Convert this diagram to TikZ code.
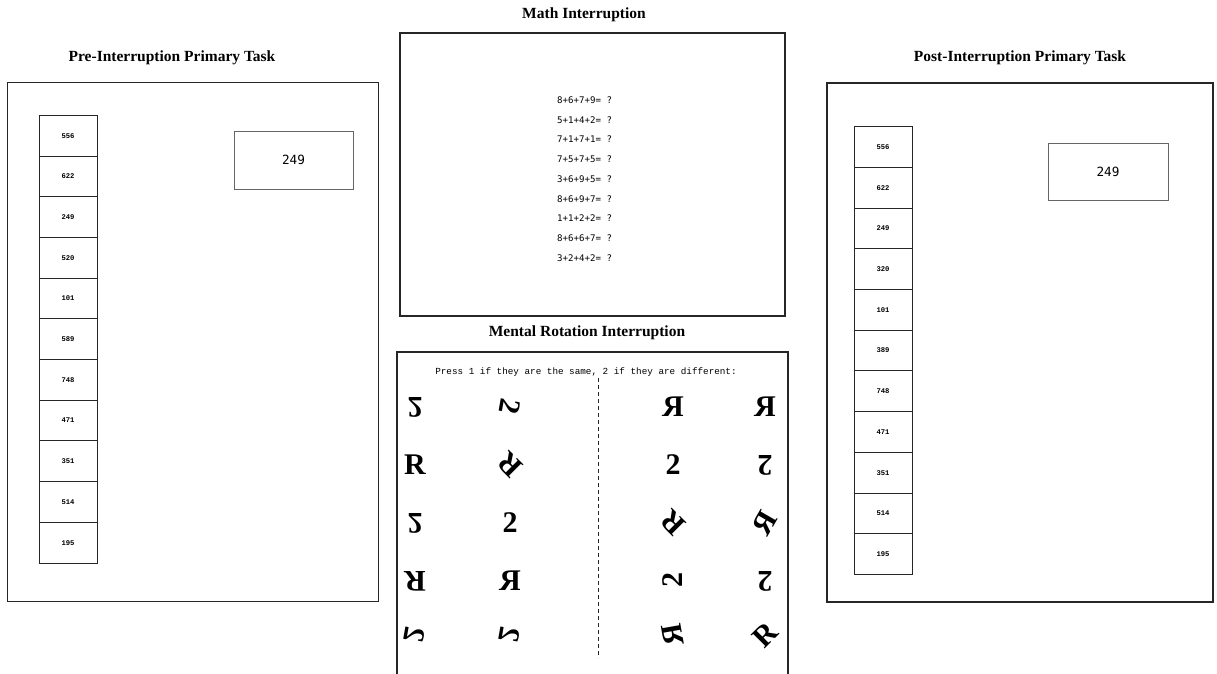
\documentclass[tikz,border=0pt]{standalone}
\usepackage{graphicx}
\usepackage{fontspec}
\setmainfont{Liberation Serif}
\newfontfamily\cellfont{Liberation Mono}
\newfontfamily\dvmono{DejaVu Sans Mono}
\newcommand\gR[2][0]{\rotatebox[origin=c]{#1}{#2}}
\newcommand\gM[2][0]{\rotatebox[origin=c]{#1}{\reflectbox{#2}}}
\begin{document}
\begin{tikzpicture}[x=1pt,y=-1pt,
  panel/.style={draw=black!85, line width=1.1pt, inner sep=0pt, outer sep=0pt},
  paneledge/.style={draw=black!85, line width=1.1pt},
  title/.style={font=\fontsize{15.5}{18}\selectfont\bfseries, inner sep=0pt},
  cell/.style={draw=black!85, line width=0.9pt, minimum width=58pt, minimum height=40.7pt, inner sep=0pt, outer sep=0pt, font=\cellfont\fontsize{7.2}{8}\selectfont\bfseries},
  target/.style={draw=black!60, line width=1pt, inner sep=0pt, font=\dvmono\fontsize{12.7}{14}\selectfont},
  eq/.style={anchor=west, inner sep=0pt, font=\dvmono\fontsize{9.1}{10}\selectfont},
  instr/.style={inner sep=0pt, font=\cellfont\fontsize{9.3}{10}\selectfont},
  glyph/.style={inner sep=0pt, font=\fontsize{30}{32}\selectfont\bfseries},
  divider/.style={draw=black!85, line width=0.9pt, dash pattern=on 4pt off 3pt}
]
\useasboundingbox[fill=white] (0,0) rectangle (1217,674);

% titles
\node[title] (t1) at (172,58) {Pre-Interruption Primary Task};
\node[title] (t2) at (584,15) {Math Interruption};
\node[title] (t3) at (587,333) {Mental Rotation Interruption};
\node[title] (t4) at (1020,58) {Post-Interruption Primary Task};

% panels
\node[panel, minimum width=371pt, minimum height=518.5pt] (pre) at (193,341.8) {};
\node[panel, minimum width=385pt, minimum height=283pt] (math) at (592.5,174.5) {};
\node[panel, minimum width=386pt, minimum height=519pt] (post) at (1020,342.5) {};

% pre-interruption column
\foreach \v [count=\i] in {556,622,249,520,101,589,748,471,351,514,195}
  \node[cell] (pl\i) at (68,{115.3+20.35+40.7*(\i-1)}) {\v};
\node[target, minimum width=119pt, minimum height=58pt] (plt) at (293.5,160) {249};

% post-interruption column
\foreach \v [count=\i] in {556,622,249,320,101,389,748,471,351,514,195}
  \node[cell] (pr\i) at (883,{126.7+20.35+40.7*(\i-1)}) {\v};
\node[target, minimum width=120pt, minimum height=57pt] (prt) at (1108,171.5) {249};

% math equations
\foreach \e [count=\i] in {8+6+7+9= ?,5+1+4+2= ?,7+1+7+1= ?,7+5+7+5= ?,3+6+9+5= ?,8+6+9+7= ?,1+1+2+2= ?,8+6+6+7= ?,3+2+4+2= ?}
  \node[eq] (eq\i) at (557,{100+19.75*(\i-1)}) {\e};

% mental rotation panel (open at the bottom)
\coordinate (mrbl) at (397,674);
\coordinate (mrtl) at (397,352);
\coordinate (mrtr) at (788,352);
\coordinate (mrbr) at (788,674);
\draw[paneledge] (mrbl) -- (mrtl) -- (mrtr) -- (mrbr);
\node[instr] (press) at (586,372) {Press 1 if they are the same, 2 if they are different:};
\coordinate (dtop) at (598,378);
\coordinate (dbot) at (598,658);
\draw[divider] (dtop) -- (dbot);

% glyphs: row 1
\node[glyph] (g11) at (415,407) {\gM[180]{2}};
\node[glyph] (g12) at (510,407) {\gR[-100]{2}};
\node[glyph] (g13) at (673,407) {\gM{R}};
\node[glyph] (g14) at (765,407) {\gM{R}};
% row 2
\node[glyph] (g21) at (415,465) {R};
\node[glyph] (g22) at (510,465) {\gR[135]{R}};
\node[glyph] (g23) at (673,465) {2};
\node[glyph] (g24) at (765,465) {\gR[180]{2}};
% row 3
\node[glyph] (g31) at (415,523) {\gM[180]{2}};
\node[glyph] (g32) at (510,523) {2};
\node[glyph] (g33) at (673,523) {\gR[135]{R}};
\node[glyph] (g34) at (765,523) {\gM[60]{R}};
% row 4
\node[glyph] (g41) at (415,581) {\gR[180]{R}};
\node[glyph] (g42) at (510,581) {\gM{R}};
\node[glyph] (g43) at (673,581) {\gR[90]{2}};
\node[glyph] (g44) at (765,581) {\gR[180]{2}};
% row 5
\node[glyph] (g51) at (415,635) {\gM[-100]{2}};
\node[glyph] (g52) at (510,635) {\gM[-100]{2}};
\node[glyph] (g53) at (673,635) {\gM[100]{R}};
\node[glyph] (g54) at (765,635) {\gR[45]{R}};
\end{tikzpicture}
\end{document}
